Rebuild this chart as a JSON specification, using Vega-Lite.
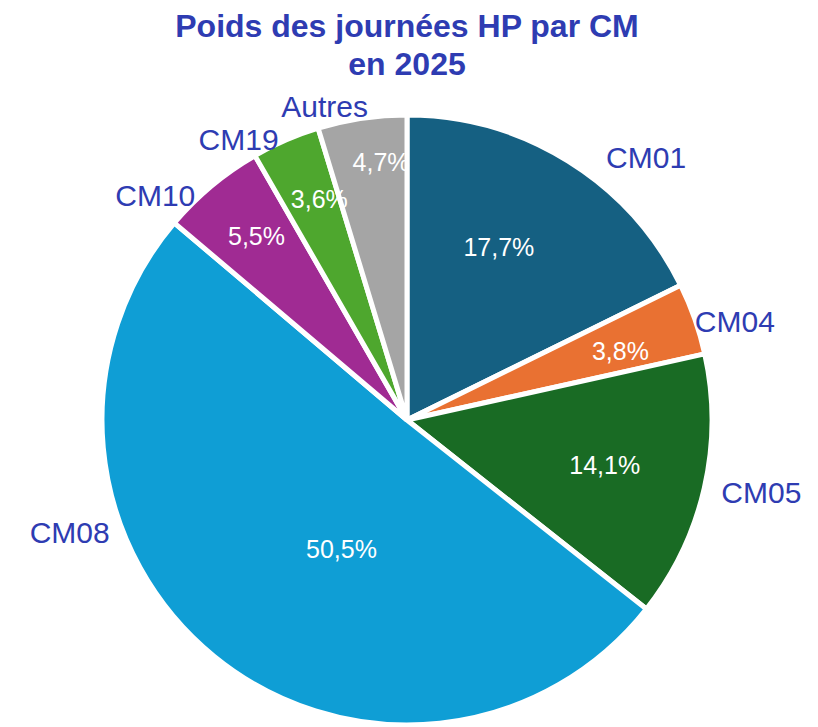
{
  "$schema": "https://vega.github.io/schema/vega-lite/v6.json",
  "autosize": "none",
  "width": 814,
  "height": 614,
  "padding": {"top": 113, "left": 0, "right": 4, "bottom": 0},
  "background": "white",
  "title": {
    "text": ["Poids des journées HP par CM", "en 2025"],
    "anchor": "middle",
    "font": "Liberation Sans",
    "fontSize": 32,
    "fontWeight": "bold",
    "color": "#2e3cb2",
    "lineHeight": 38,
    "offset": -34
  },
  "data": {
    "values": [
      {"cm": "CM01", "v": 17.7, "lab": "17,7%"},
      {"cm": "CM04", "v": 3.8, "lab": "3,8%"},
      {"cm": "CM05", "v": 14.1, "lab": "14,1%"},
      {"cm": "CM08", "v": 50.5, "lab": "50,5%"},
      {"cm": "CM10", "v": 5.5, "lab": "5,5%"},
      {"cm": "CM19", "v": 3.6, "lab": "3,6%"},
      {"cm": "Autres", "v": 4.7, "lab": "4,7%"}
    ]
  },
  "transform": [{"window": [{"op": "row_number", "as": "idx"}]}],
  "encoding": {
    "theta": {"field": "v", "type": "quantitative", "stack": true},
    "order": {"field": "idx", "type": "quantitative"},
    "detail": {"field": "cm"}
  },
  "layer": [
    {
      "mark": {"type": "arc", "radius": 305, "stroke": "white", "strokeWidth": 5},
      "encoding": {
        "color": {
          "field": "cm", "type": "nominal", "legend": null,
          "scale": {
            "domain": ["CM01", "CM04", "CM05", "CM08", "CM10", "CM19", "Autres"],
            "range": ["#156082", "#e97132", "#196b24", "#0f9ed5", "#a02b93", "#4ea72e", "#a5a5a5"]
          }
        }
      }
    },
    {"mark": {"type": "text", "radius": 195, "thetaOffset": -0.066, "font": "Liberation Sans", "fontSize": 25, "color": "white"}, "encoding": {"text": {"condition": {"test": "datum.cm == 'CM01'", "field": "lab"}, "value": ""}}},
    {"mark": {"type": "text", "radius": 224, "thetaOffset": 0.03, "font": "Liberation Sans", "fontSize": 25, "color": "white"}, "encoding": {"text": {"condition": {"test": "datum.cm == 'CM04'", "field": "lab"}, "value": ""}}},
    {"mark": {"type": "text", "radius": 203, "thetaOffset": 0.004, "font": "Liberation Sans", "fontSize": 25, "color": "white"}, "encoding": {"text": {"condition": {"test": "datum.cm == 'CM05'", "field": "lab"}, "value": ""}}},
    {"mark": {"type": "text", "radius": 146, "thetaOffset": -0.22, "font": "Liberation Sans", "fontSize": 25, "color": "white"}, "encoding": {"text": {"condition": {"test": "datum.cm == 'CM08'", "field": "lab"}, "value": ""}}},
    {"mark": {"type": "text", "radius": 237, "thetaOffset": 0.007, "font": "Liberation Sans", "fontSize": 25, "color": "white"}, "encoding": {"text": {"condition": {"test": "datum.cm == 'CM10'", "field": "lab"}, "value": ""}}},
    {"mark": {"type": "text", "radius": 237, "thetaOffset": 0.03, "font": "Liberation Sans", "fontSize": 25, "color": "white"}, "encoding": {"text": {"condition": {"test": "datum.cm == 'CM19'", "field": "lab"}, "value": ""}}},
    {"mark": {"type": "text", "radius": 258, "thetaOffset": 0.047, "font": "Liberation Sans", "fontSize": 25, "color": "white"}, "encoding": {"text": {"condition": {"test": "datum.cm == 'Autres'", "field": "lab"}, "value": ""}}},
    {"mark": {"type": "text", "radius": 354, "thetaOffset": 0.185, "font": "Liberation Sans", "fontSize": 30, "color": "#2e3cb2"}, "encoding": {"text": {"condition": {"test": "datum.cm == 'CM01'", "field": "cm"}, "value": ""}}},
    {"mark": {"type": "text", "radius": 342, "thetaOffset": 0.049, "font": "Liberation Sans", "fontSize": 30, "color": "#2e3cb2"}, "encoding": {"text": {"condition": {"test": "datum.cm == 'CM04'", "field": "cm"}, "value": ""}}},
    {"mark": {"type": "text", "radius": 362, "thetaOffset": -0.019, "font": "Liberation Sans", "fontSize": 30, "color": "#2e3cb2"}, "encoding": {"text": {"condition": {"test": "datum.cm == 'CM05'", "field": "cm"}, "value": ""}}},
    {"mark": {"type": "text", "radius": 356, "thetaOffset": 0.56, "font": "Liberation Sans", "fontSize": 30, "color": "#2e3cb2"}, "encoding": {"text": {"condition": {"test": "datum.cm == 'CM08'", "field": "cm"}, "value": ""}}},
    {"mark": {"type": "text", "radius": 336, "thetaOffset": -0.152, "font": "Liberation Sans", "fontSize": 30, "color": "#2e3cb2"}, "encoding": {"text": {"condition": {"test": "datum.cm == 'CM10'", "field": "cm"}, "value": ""}}},
    {"mark": {"type": "text", "radius": 326, "thetaOffset": -0.134, "font": "Liberation Sans", "fontSize": 30, "color": "#2e3cb2"}, "encoding": {"text": {"condition": {"test": "datum.cm == 'CM19'", "field": "cm"}, "value": ""}}},
    {"mark": {"type": "text", "radius": 323, "thetaOffset": -0.11, "font": "Liberation Sans", "fontSize": 30, "color": "#2e3cb2"}, "encoding": {"text": {"condition": {"test": "datum.cm == 'Autres'", "field": "cm"}, "value": ""}}}
  ],
  "config": {"view": {"stroke": null}}
}
